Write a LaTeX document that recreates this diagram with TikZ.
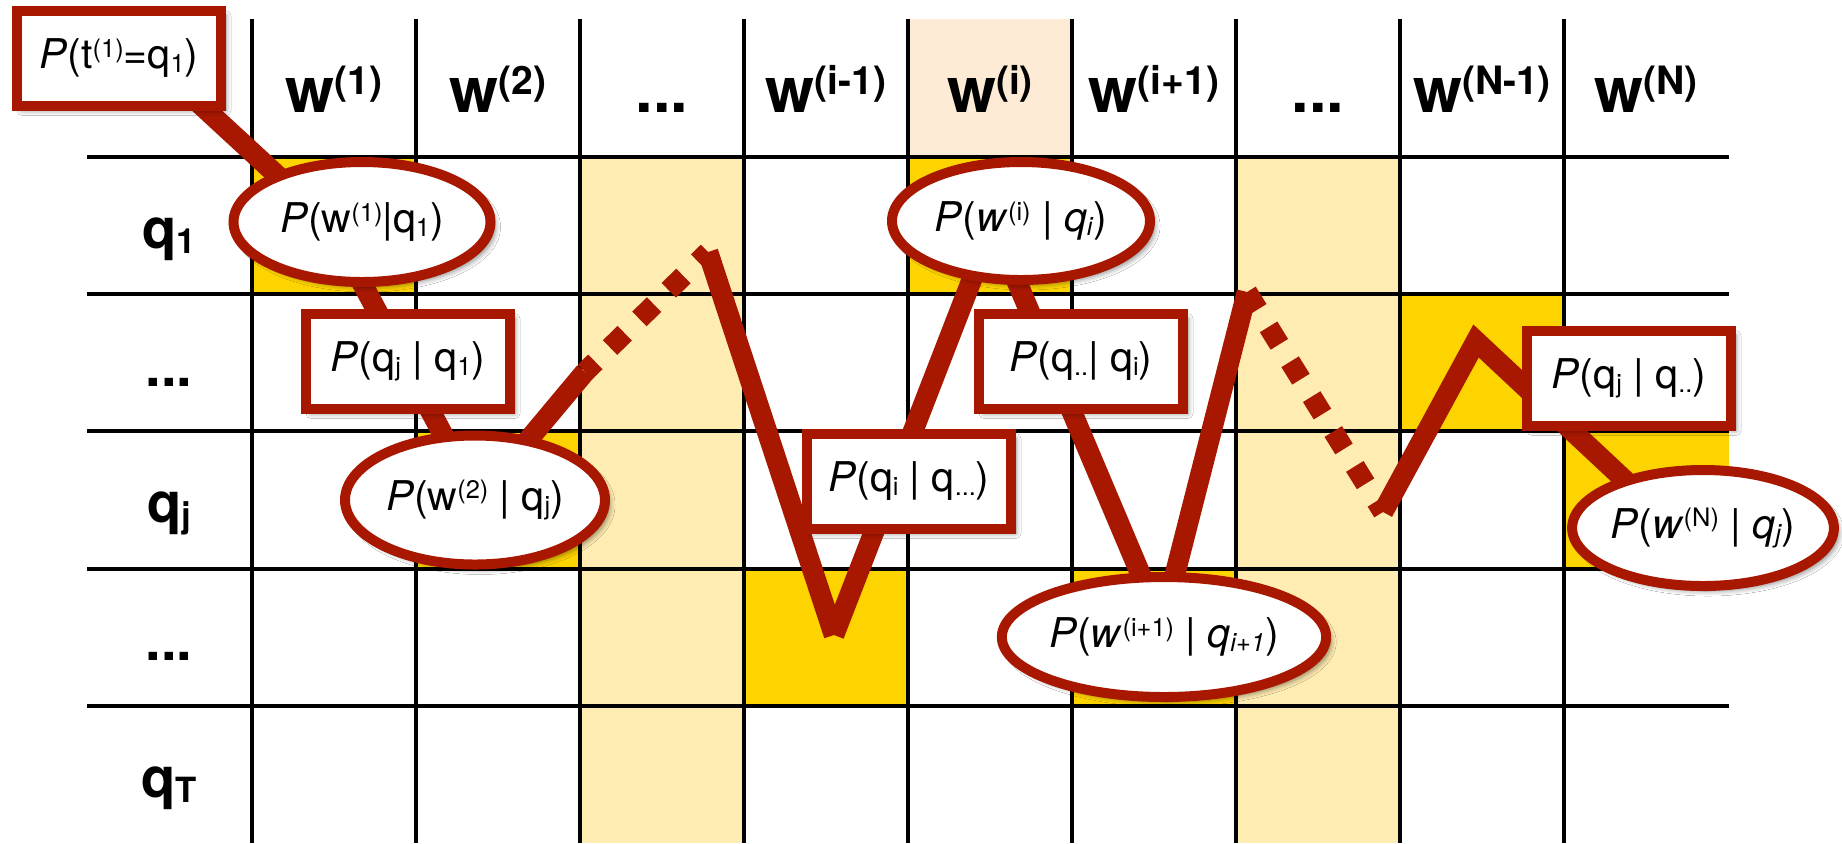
\documentclass[tikz,border=0pt]{standalone}
\usepackage{fontspec}
\setmainfont{TeX Gyre Heros}
\usepackage{graphicx}
\usetikzlibrary{shapes.geometric,shadows.blur}
\definecolor{pathred}{RGB}{168,24,0}
\definecolor{gold}{RGB}{254,212,0}
\definecolor{lightyel}{RGB}{255,236,178}
\definecolor{peach}{RGB}{253,235,213}
\newcommand\Sup[1]{\raisebox{0.28em}{\scalebox{0.62}{#1}}}
\newcommand\Sub[1]{\raisebox{-0.1em}{\scalebox{0.62}{#1}}}
\begin{document}
\begin{tikzpicture}[x=0.5pt,y=-0.5pt,
  gridline/.style={line width=1.75pt,draw=black},
  pathline/.style={line width=10.25pt,draw=pathred},
  dotline/.style={pathline,dash pattern=on 10.25pt off 10.25pt},
  softshadow/.style={blur shadow={shadow xshift=2.5pt,shadow yshift=-2.5pt,shadow blur radius=2.5pt,shadow blur steps=6,shadow opacity=45}},
  probbox/.style={rectangle,draw=pathred,line width=5pt,fill=white,minimum width=102pt,minimum height=47.5pt,inner sep=0pt,font=\fontsize{20.5}{23}\selectfont,softshadow},
  probell/.style={ellipse,draw=pathred,line width=5pt,fill=white,inner sep=0pt,font=\fontsize{20.5}{23}\selectfont,softshadow},
  header/.style={anchor=base,font=\fontsize{31.5}{36}\selectfont\bfseries},
  rowlabel/.style={anchor=base,font=\fontsize{28}{32}\selectfont\bfseries},
]
\useasboundingbox (0,0) rectangle (1842,843);
\fill[white] (0,0) rectangle (1842,843);
% column shading
\fill[lightyel] (580,157) rectangle (744,843);
\fill[lightyel] (1236,157) rectangle (1400,843);
\fill[peach] (908,19) rectangle (1072,157);
% gold cells
\fill[gold] (252,157) rectangle (416,294);
\fill[gold] (416,431) rectangle (580,569);
\fill[gold] (744,569) rectangle (908,706);
\fill[gold] (908,157) rectangle (1072,294);
\fill[gold] (1072,569) rectangle (1236,706);
\fill[gold] (1400,294) rectangle (1564,431);
\fill[gold] (1564,431) rectangle (1729,569);
% grid
\foreach \x in {252,416,580,744,908,1072,1236,1400,1564}
  \draw[gridline] (\x,19) -- (\x,843);
\foreach \y in {157,294,431,569,706}
  \draw[gridline] (87,\y) -- (1729,\y);
% headers
\node[header] (h1) at (334,112) {w\Sup{(1)}};
\node[header] (h2) at (498,112) {w\Sup{(2)}};
\node[header] (h3) at (662,112) {...};
\node[header] (h4) at (826,112) {w\Sup{(i-1)}};
\node[header] (h5) at (990,112) {w\Sup{(i)}};
\node[header] (h6) at (1154,112) {w\Sup{(i+1)}};
\node[header] (h7) at (1318,112) {...};
\node[header] (h8) at (1482,112) {w\Sup{(N-1)}};
\node[header] (h9) at (1646,112) {w\Sup{(N)}};
% row labels
\node[rowlabel] (r1) at (169,248) {q\Sub{1}};
\node[rowlabel] (r2) at (169,386) {...};
\node[rowlabel] (r3) at (169,522) {q\Sub{j}};
\node[rowlabel] (r4) at (169,660) {...};
\node[rowlabel] (r5) at (169,797) {q\Sub{T}};
% path vertices
\coordinate (v0) at (150,58);
\coordinate (v1) at (331,225);
\coordinate (v2) at (478,500);
\coordinate (t1) at (585,372);
\coordinate (v4) at (708,252);
\coordinate (v5) at (834,635);
\coordinate (v6) at (993,225);
\coordinate (v7) at (1162,625);
\coordinate (v8) at (1247,292);
\coordinate (v9) at (1383,512);
\coordinate (v10) at (1476,341);
\coordinate (v11) at (1646,500);
% path
\draw[pathline] (v0) -- (v1) -- (v2) -- (t1);
\draw[dotline,dash phase=3pt] (t1) -- (v4);
\draw[pathline] (v4) -- (v5);
\draw[pathline] (v5) -- (v6) -- (v7) -- (v8);
\draw[dotline] (v8) -- (v9);
\draw[pathline] (v9) -- (v10) -- (v11);
% probability nodes
\node[probbox] (b0) at (119,58) {\textit{P}(t\Sup{(1)}=q\Sub{1})};
\node[probell,minimum width=128.5pt,minimum height=60pt] (e1) at (362,222) {\textit{P}(w\Sup{(1)}|q\Sub{1})};
\node[probbox] (b2) at (408,361) {\textit{P}(q\Sub{j} | q\Sub{1})};
\node[probell,minimum width=130pt,minimum height=64.5pt] (e2) at (475,500) {\textit{P}(w\Sup{(2)} | q\Sub{j})};
\node[probbox] (b3) at (909,481) {\textit{P}(q\Sub{i} | q\Sub{...})};
\node[probell,minimum width=129pt,minimum height=59pt] (ei) at (1021,221) {\textit{P}(\textit{w}\Sup{(i)} | \textit{q}\Sub{\textit{i}})};
\node[probbox] (b4) at (1081,361) {\textit{P}(q\Sub{..}| q\Sub{i})};
\node[probell,minimum width=136pt,minimum height=60pt] (ei1) at (1164,637) {\textit{P}(\textit{w}\Sup{(i+1)} | \textit{q}\Sub{\textit{i+1}})};
\node[probbox] (b5) at (1629,378) {\textit{P}(q\Sub{j} | q\Sub{..})};
\node[probell,minimum width=125pt,minimum height=58pt] (eN) at (1703,528) {\textit{P}(\textit{w}\Sup{(N)} | \textit{q}\Sub{\textit{j}})};
\end{tikzpicture}
\end{document}
